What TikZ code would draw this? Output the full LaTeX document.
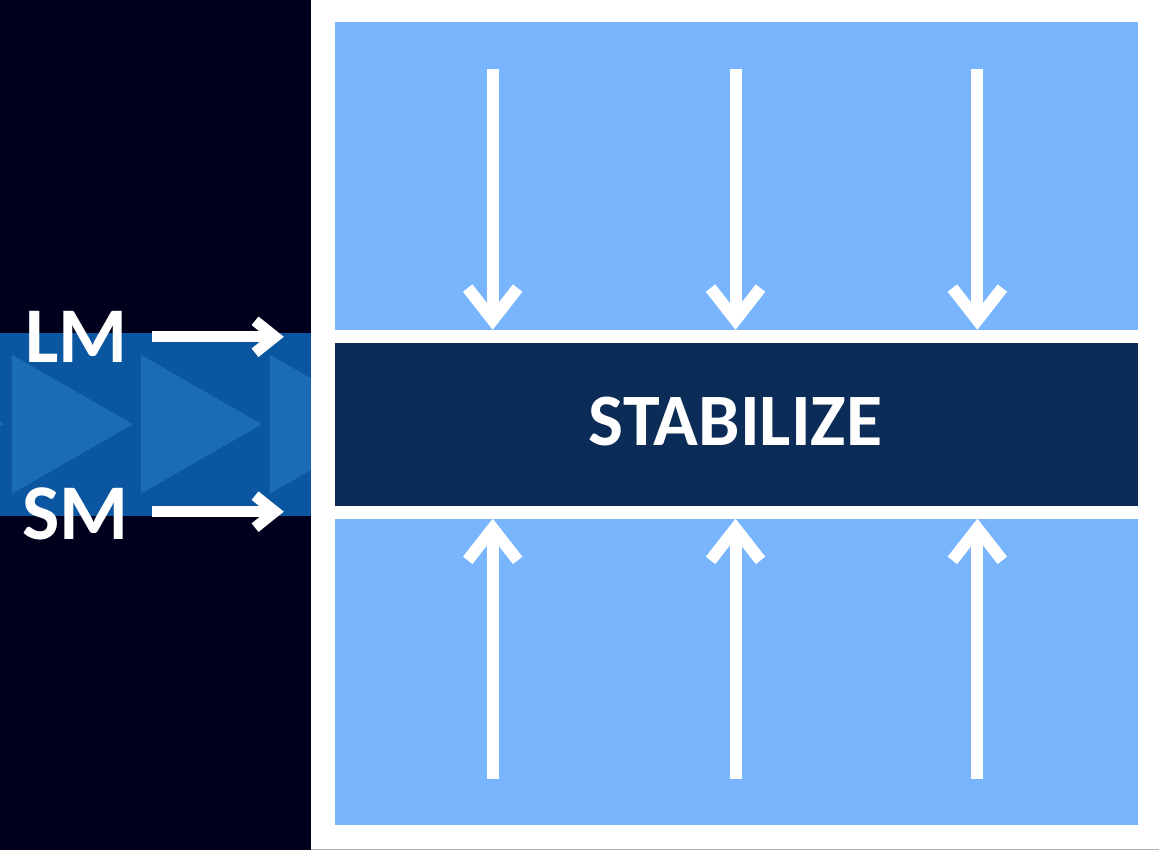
\documentclass[tikz,border=0pt]{standalone}
\usepackage{fontspec}
\setmainfont{Carlito}
\usetikzlibrary{arrows.meta}

\definecolor{night}{HTML}{00001C}
\definecolor{band}{HTML}{0A56A0}
\definecolor{chevron}{HTML}{1A6DB5}
\definecolor{sky}{HTML}{78B5FD}
\definecolor{deep}{HTML}{0B2C56}

\begin{document}
\begin{tikzpicture}[x=1pt,y=-1pt]
	\tikzstyle{panel}=[fill=sky,inner sep=0,outer sep=0,minimum width=804]
	\tikzstyle{push}=[draw=white,line width=12,-{Straight Barb[length=32,width=50,sharp]}]
	\tikzstyle{feed}=[draw=white,line width=11,-{Straight Barb[length=20,width=32,sharp]}]
	\tikzstyle{tag}=[text=white,font=\fontsize{79}{79}\selectfont\bfseries,inner sep=0]

	% background
	\fill[white] (0,0) rectangle (1160,851);
	\fill[night] (0,0) rectangle (311,851);
	\draw[gray!60,line width=1.5] (311,850.25) -- (1160,850.25);

	% band with chevrons
	\fill[band] (0,333) rectangle (311,516);
	\begin{scope}
		\clip (0,333) rectangle (311,516);
		\foreach \x in {-117,12,141,270}
			\fill[chevron] (\x,355) -- (\x+121,424.5) -- (\x,494) -- cycle;
	\end{scope}

	\node [panel,minimum height=308] (top) at (737,176) {};
	\node [panel,minimum height=163,fill=deep] (bar) at (737,424.5) {};
	\node [panel,minimum height=307] (low) at (737,672.5) {};
	\node [text=white,font=\fontsize{74}{74}\selectfont\bfseries,inner sep=0] (title) at (736,421.5) {STABILIZE};

	\foreach \x in {493,736,978} {
		\coordinate (d) at (\x,69);
		\coordinate (u) at (\x,779);
		\path[push] (d) -- (d |- top.south);
		\path[push] (u) -- (u |- low.north);
	}

	\node [tag,anchor=base west] (lm) at (25,363) {LM};
	\node [tag,anchor=base west] (sm) at (22,540) {SM};
	\coordinate (lm-in) at (152,337);
	\coordinate (lm-out) at (284,337);
	\coordinate (sm-in) at (152,512);
	\coordinate (sm-out) at (284,512);
	\path[feed] (lm-in) -- (lm-out);
	\path[feed] (sm-in) -- (sm-out);
\end{tikzpicture}
\end{document}
